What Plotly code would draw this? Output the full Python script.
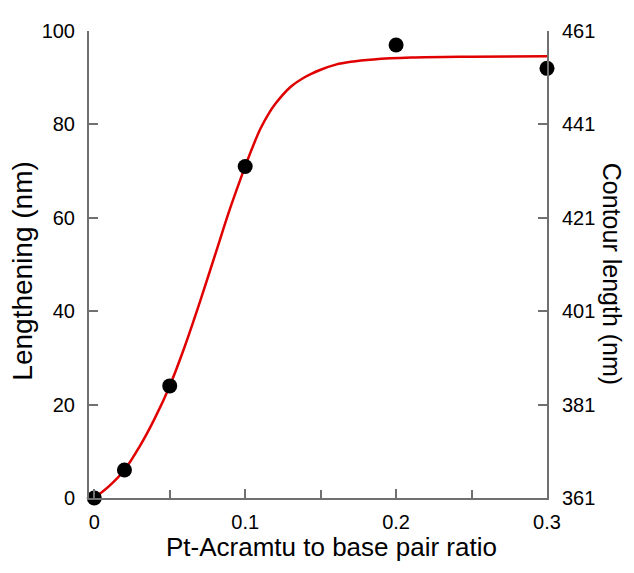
import plotly.graph_objects as go

# Measured data points
ratio = [0, 0.02, 0.05, 0.1, 0.2, 0.3]
lengthening = [0, 6, 24, 71, 97, 92]

# Fitted curve
fit_x = [0, 0.01, 0.02, 0.03, 0.04, 0.05, 0.06, 0.07, 0.08, 0.09, 0.1,
         0.105, 0.11, 0.115, 0.12, 0.13, 0.14, 0.15, 0.16, 0.17, 0.185,
         0.21, 0.25, 0.3]
fit_y = [0, 2.6, 6, 11, 17, 24, 32.5, 42, 52, 62, 71,
         75.2, 79, 82, 84.4, 88, 90.2, 91.7, 92.8, 93.4, 93.9,
         94.3, 94.5, 94.6]

x_ticks = [0, 0.1, 0.2, 0.3]
x_ticklabels = ["0", "0.1", "0.2", "0.3"]
left_ticks = [0, 20, 40, 60, 80, 100]
right_ticks = [361, 381, 401, 421, 441, 461]

FONT = "Liberation Sans, Arial, sans-serif"
AX = "#707070"

fig = go.Figure()
fig.add_trace(go.Scatter(x=fit_x, y=fit_y, mode="lines",
                         line=dict(color="#e00000", width=2.5, shape="spline",
                                   smoothing=1.0),
                         showlegend=False, hoverinfo="skip"))
fig.add_trace(go.Scatter(x=ratio, y=lengthening, mode="markers",
                         marker=dict(color="black", size=15),
                         cliponaxis=False, showlegend=False))
# invisible trace to activate right axis
fig.add_trace(go.Scatter(x=[0.3], y=[461], yaxis="y2", mode="markers",
                         marker=dict(opacity=0), showlegend=False, hoverinfo="skip"))

fig.update_layout(
    width=626, height=565,
    margin=dict(l=81, r=87, t=16, b=75),
    paper_bgcolor="white", plot_bgcolor="white",
    font=dict(family=FONT, color="black", size=20),
    xaxis=dict(range=[-0.0035, 0.3], tickvals=x_ticks, ticktext=x_ticklabels,
               ticks="inside", ticklen=9, tickwidth=2, tickcolor=AX,
               showline=True, linecolor=AX, linewidth=2, showgrid=False,
               zeroline=False, ticklabelstandoff=5,
               minor=dict(tickvals=[0.05, 0.15, 0.25], ticks="inside",
                          ticklen=8, tickwidth=2, tickcolor=AX)),
    yaxis=dict(range=[0, 100], tickvals=left_ticks, ticks="inside",
               ticklen=9, tickwidth=2, tickcolor=AX,
               showline=True, linecolor=AX, linewidth=2, showgrid=False,
               zeroline=False, ticklabelstandoff=8),
    yaxis2=dict(range=[361, 461], tickvals=right_ticks, overlaying="y",
                side="right", anchor="x", ticks="inside", ticklen=9,
                tickwidth=2, tickcolor=AX, showline=True, linecolor=AX,
                linewidth=2, showgrid=False, zeroline=False,
                ticklabelstandoff=9),
    annotations=[
        dict(text="Pt-Acramtu to base pair ratio", xref="paper", yref="paper",
             x=0.53, y=-0.105, xanchor="center", yanchor="middle",
             showarrow=False, font=dict(size=26)),
        dict(text="Lengthening (nm)", xref="paper", yref="paper",
             x=-0.146, y=0.485, xanchor="center", yanchor="middle",
             textangle=-90, showarrow=False, font=dict(size=28)),
        dict(text="Contour length (nm)", xref="paper", yref="paper",
             x=1.142, y=0.48, xanchor="center", yanchor="middle",
             textangle=90, showarrow=False, font=dict(size=25)),
    ],
)

fig.write_html("out.html")
